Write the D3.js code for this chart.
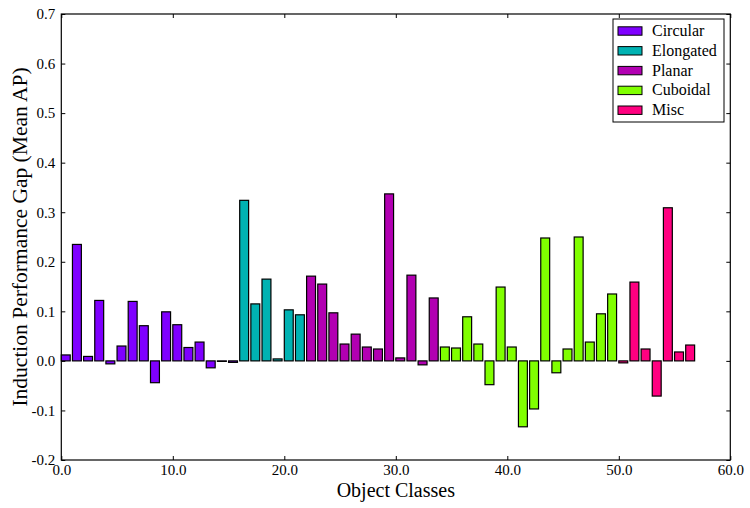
<!DOCTYPE html>
<html>
<head>
<meta charset="utf-8">
<script src="https://cdn.jsdelivr.net/npm/d3@7"></script>
<style>
  html, body { margin: 0; padding: 0; background: #fff; }
  svg { display: block; }
  svg text { font-family: "Liberation Serif", "Times New Roman", serif !important; fill: #000; }
</style>
</head>
<body>
<svg id="chart" width="750" height="508"></svg>
<script>
// ---- data ----
const groups = ["Circular", "Elongated", "Planar", "Cuboidal", "Misc"];
const groupColors = ["#7f00ff", "#00b2b2", "#b200b2", "#80ff00", "#ff0080"];
const circular = [0.012, 0.235, 0.009, 0.122, -0.006, 0.030, 0.120, 0.071, -0.044, 0.099, 0.073, 0.027, 0.038, -0.014, -0.001, -0.003];
const elongated = [0.324, 0.115, 0.165, 0.004, 0.103, 0.093];
const planar = [0.171, 0.155, 0.097, 0.034, 0.054, 0.028, 0.024, 0.337, 0.006, 0.173, -0.008, 0.127];
const cuboidal = [0.028, 0.026, 0.089, 0.034, -0.048, 0.149, 0.028, -0.133, -0.097, 0.248, -0.024, 0.024, 0.250, 0.038, 0.095, 0.135];
const misc = [-0.004, 0.159, 0.024, -0.071, 0.309, 0.018, 0.032];
const xTicks = [0, 10, 20, 30, 40, 50, 60];
const yTicks = [-0.2, -0.1, 0.0, 0.1, 0.2, 0.3, 0.4, 0.5, 0.6, 0.7];
const xLabel = "Object Classes";
const yLabel = "Induction Performance Gap (Mean AP)";

// ---- build bar table ----
const seriesValues = [circular, elongated, planar, cuboidal, misc];
const bars = [];
let idx = 0;
seriesValues.forEach((vals, g) => {
  vals.forEach(v => { bars.push({ i: idx++, v: v, g: g }); });
});

// ---- layout ----
const FONT = '"Liberation Serif", "Times New Roman", serif';
const svg = d3.select("#chart");
const L = 61.3, R = 730.3, T = 14, B = 460;
const x = d3.scaleLinear().domain([0, 60]).range([L, R]);
const y = d3.scaleLinear().domain([-0.2, 0.7]).range([B, T]);
const barW = 0.8;

// bars
svg.append("g").selectAll("rect").data(bars).join("rect")
  .attr("x", d => x(d.i))
  .attr("width", d => x(d.i + barW) - x(d.i))
  .attr("y", d => y(Math.max(0, d.v)))
  .attr("height", d => Math.abs(y(d.v) - y(0)))
  .attr("fill", d => groupColors[d.g])
  .attr("stroke", "#000")
  .attr("stroke-width", 1.2);

// axes
const fmt = d3.format(".1f");
const gx = svg.append("g").attr("transform", `translate(0,${B})`)
  .call(d3.axisBottom(x).tickValues(xTicks).tickFormat(fmt).tickSize(-4).tickPadding(4));
const gy = svg.append("g").attr("transform", `translate(${L},0)`)
  .call(d3.axisLeft(y).tickValues(yTicks).tickFormat(d => fmt(d).replace("\u2212", "-")).tickSize(-4).tickPadding(6));
const gxt = svg.append("g").attr("transform", `translate(0,${T})`)
  .call(d3.axisTop(x).tickValues(xTicks).tickFormat("").tickSize(-4));
const gyr = svg.append("g").attr("transform", `translate(${R},0)`)
  .call(d3.axisRight(y).tickValues(yTicks).tickFormat("").tickSize(-4));
[gx, gy, gxt, gyr].forEach(g => {
  g.attr("font-family", FONT).attr("font-size", 15);
  g.select(".domain").remove();
  g.selectAll(".tick line").attr("stroke", "#000").attr("stroke-width", 1);
  g.selectAll("text").attr("fill", "#000");
});

// frame
svg.append("rect").attr("x", L).attr("y", T).attr("width", R - L).attr("height", B - T)
  .attr("fill", "none").attr("stroke", "#000").attr("stroke-width", 1.2);

// axis labels
svg.append("text").attr("x", (L + R) / 2).attr("y", 497)
  .attr("font-family", FONT).attr("text-anchor", "middle").attr("font-size", 20).text(xLabel);
svg.append("text").attr("transform", `translate(27,${(T + B) / 2}) rotate(-90)`)
  .attr("font-family", FONT).attr("text-anchor", "middle").attr("font-size", 21.5).text(yLabel);

// legend
const lg = svg.append("g").attr("font-family", FONT);
lg.append("rect").attr("x", 613).attr("y", 19).attr("width", 111).attr("height", 103)
  .attr("fill", "#fff").attr("stroke", "#000").attr("stroke-width", 1);
groups.forEach((name, k) => {
  const cy = 31 + k * 19.8;
  lg.append("rect").attr("x", 618).attr("y", cy - 4.2).attr("width", 24).attr("height", 8.4)
    .attr("fill", groupColors[k]).attr("stroke", "#000").attr("stroke-width", 1);
  lg.append("text").attr("x", 652).attr("y", cy + 5).attr("font-size", 16).text(name);
});
</script>
</body>
</html>
